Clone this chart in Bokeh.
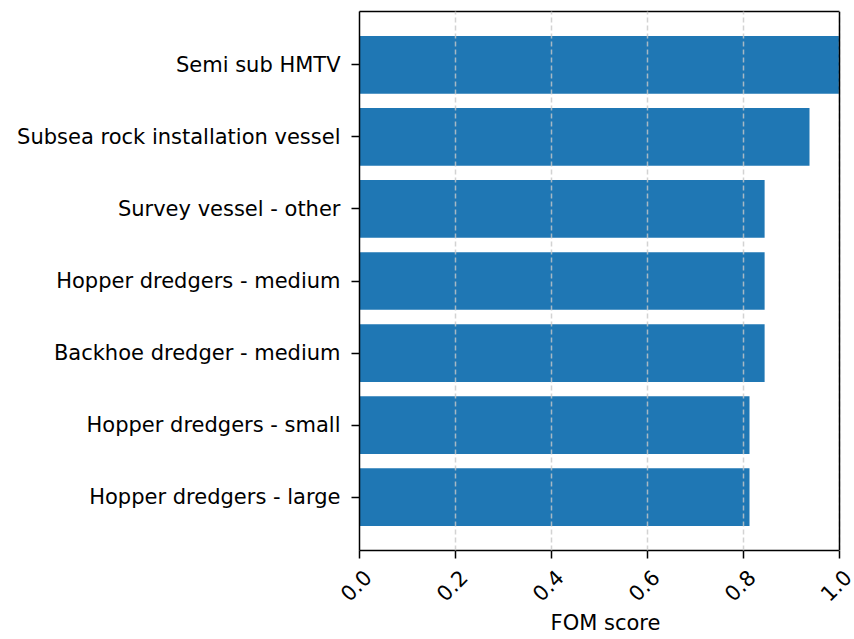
import math
from bokeh.plotting import figure
from bokeh.models import Range1d, FixedTicker, ColumnDataSource, LinearAxis, Span
from bokeh.embed import file_html
from bokeh.resources import INLINE

# Vessel categories (bottom to top) and their FOM scores
vessels = [
    "Hopper dredgers - large",
    "Hopper dredgers - small",
    "Backhoe dredger - medium",
    "Hopper dredgers - medium",
    "Survey vessel - other",
    "Subsea rock installation vessel",
    "Semi sub HMTV",
]
fom_scores = [0.8125, 0.8125, 0.844, 0.844, 0.844, 0.9375, 1.0]
x_ticks = [0.0, 0.2, 0.4, 0.6, 0.8, 1.0]
x_tick_labels = ["0.0", "0.2", "0.4", "0.6", "0.8", "1.0"]

positions = list(range(len(vessels)))
source = ColumnDataSource(dict(y=positions, score=fom_scores, name=vessels))

FONT = "DejaVu Sans"
FS = "21px"
X_LO, X_HI = 0.0, 1.0
Y_LO, Y_HI = -0.74, len(vessels) - 1 + 0.74
PX_PER_UNIT = 480          # width of the axes box for the 0..1 span
EXTRA_PX = 12              # spare room right of the box for the last tick label
LABEL_SHIFT_PX = 8         # rotated tick labels sit centred on the tick
extra = EXTRA_PX / PX_PER_UNIT
shift = LABEL_SHIFT_PX / PX_PER_UNIT

p = figure(
    width=854, height=639,
    output_backend="svg", toolbar_location=None,
    x_range=Range1d(X_LO, X_HI + extra),
    y_range=Range1d(Y_LO, Y_HI),
    min_border_left=359, min_border_right=854 - 359 - PX_PER_UNIT - EXTRA_PX,
    min_border_top=11, min_border_bottom=89,
)

p.hbar(y="y", right="score", left=0, height=0.8, source=source,
       fill_color="#1f77b4", line_color=None)

# y axis with vessel names
p.yaxis.ticker = FixedTicker(ticks=positions)
p.yaxis.major_label_overrides = {i: n for i, n in zip(positions, vessels)}
p.yaxis.major_label_standoff = 11

# main x axis: line and ticks only, limited to 0..1
p.xaxis.ticker = FixedTicker(ticks=x_ticks)
p.xaxis.major_label_overrides = {t: "" for t in x_ticks}
p.xaxis.major_label_standoff = 0
p.xaxis.bounds = (X_LO, X_HI)

for ax in (p.xaxis[0], p.yaxis[0]):
    ax.major_label_text_font = FONT
    ax.major_label_text_font_size = FS
    ax.major_label_text_color = "black"
    ax.axis_line_color = "black"
    ax.axis_line_width = 1.5
    ax.major_tick_line_color = "black"
    ax.major_tick_line_width = 1.5
    ax.major_tick_out = 8
    ax.major_tick_in = 0
    ax.minor_tick_line_color = None

# label axis: rotated tick labels plus the axis title
p.extra_x_ranges = {"labels": Range1d(X_LO - shift, X_HI + extra - shift)}
lab_axis = LinearAxis(
    x_range_name="labels",
    ticker=FixedTicker(ticks=x_ticks),
    major_label_overrides={t: l for t, l in zip(x_ticks, x_tick_labels)},
    major_label_orientation=math.pi / 4,
    major_label_text_font=FONT, major_label_text_font_size=FS,
    major_label_text_color="black",
    major_label_standoff=9,
    axis_line_color=None, major_tick_line_color=None, minor_tick_line_color=None,
    axis_label="FOM score",
    axis_label_text_font=FONT, axis_label_text_font_size=FS,
    axis_label_text_font_style="normal", axis_label_text_color="black",
    axis_label_standoff=0,
)
p.add_layout(lab_axis, "below")

# grid: dashed vertical lines over the bars
p.ygrid.grid_line_color = None
p.xgrid.ticker = FixedTicker(ticks=x_ticks)
p.xgrid.grid_line_color = "#c8c8c8"
p.xgrid.grid_line_alpha = 0.8
p.xgrid.grid_line_dash = "5 3"
p.xgrid.grid_line_width = 1.5
p.xgrid.level = "overlay"

# top and right spines of the axes box, drawn over the grid
top_spine = LinearAxis(bounds=(X_LO, X_HI), ticker=FixedTicker(ticks=[]),
                       major_label_text_font_size=FS,
                       axis_line_color="black", axis_line_width=1.5,
                       major_tick_line_color=None, minor_tick_line_color=None)
p.add_layout(top_spine, "above")
p.add_layout(Span(location=X_HI, dimension="height", level="overlay",
                  line_color="black", line_width=1.5))

p.outline_line_color = None
p.background_fill_color = "white"
p.border_fill_color = "white"

open("out.html", "w").write(file_html(p, INLINE))
